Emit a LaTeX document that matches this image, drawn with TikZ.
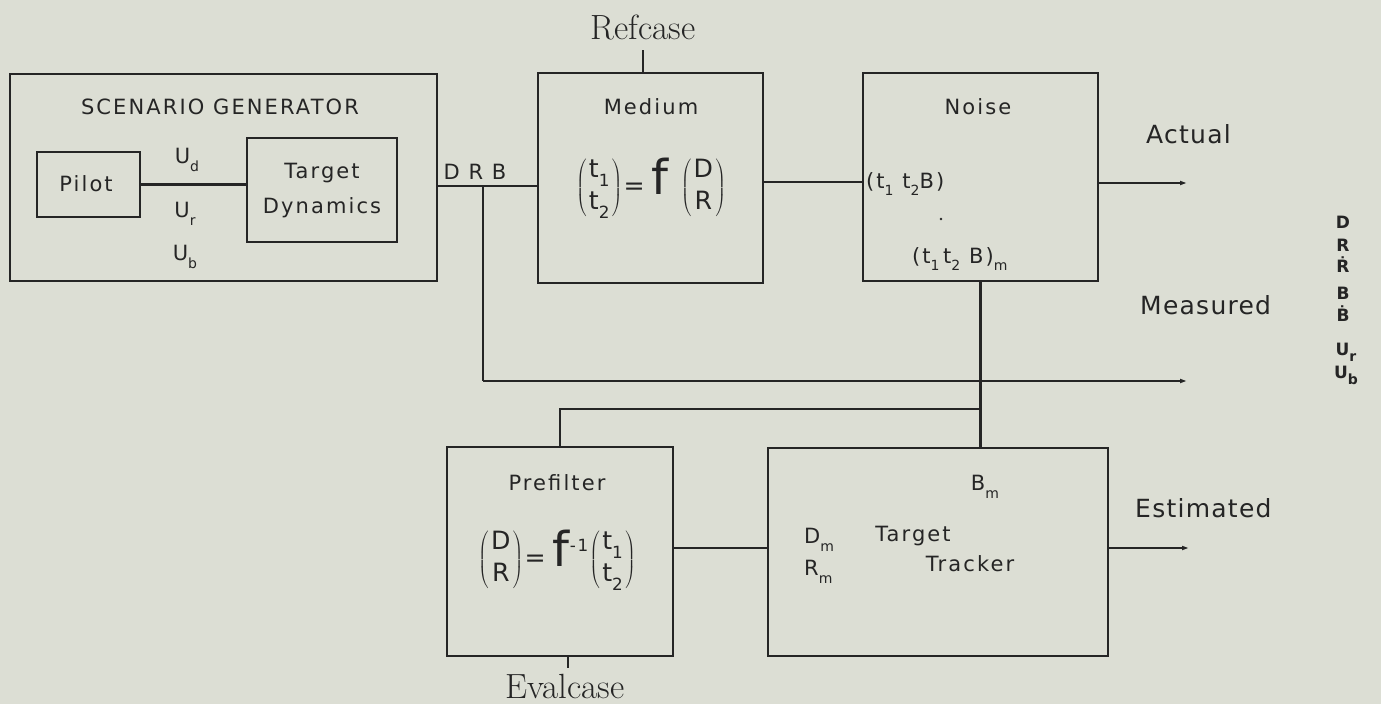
\documentclass[tikz,border=0pt]{standalone}
\usepackage{fontspec}
\usetikzlibrary{arrows.meta}
\newfontfamily\lt[LetterSpace=10]{DejaVu Sans}
\newfontfamily\lb[LetterSpace=5]{DejaVu Sans}
\setmainfont{Latin Modern Roman}
\definecolor{bg}{HTML}{DCDED4}
\definecolor{ink}{HTML}{252525}
\newcommand\sbs[1]{\raisebox{-0.35em}{\fontsize{14}{14}\selectfont #1}}
\newcommand\vstk[2]{\begin{tabular}{@{}c@{}}#1\\[3pt]#2\end{tabular}}
\newcommand\prn[1]{$\left(\vcenter{\hbox{\kern2pt#1\kern2pt}}\right)$}
\newcommand\bigf{{\fontsize{40}{40}\selectfont f}}
\tikzset{
  box/.style={draw=ink, line width=2.5pt, inner sep=0pt},
  wire/.style={draw=ink, line width=2.5pt},
  outw/.style={wire, -{Latex[length=10pt,width=4.5pt]}},
  txt/.style={text=ink, font=\lt\fontsize{21}{24}\selectfont, inner sep=0pt},
  eqn/.style={text=ink, font=\lt\fontsize{21}{24}\selectfont, inner sep=0pt, scale=1.2, transform shape=false},
  big/.style={text=ink, font=\lb\fontsize{25}{28}\selectfont, inner sep=0pt},
  serif/.style={text=ink, font=\fontsize{35}{38}\selectfont, inner sep=0pt},
  lst/.style={text=ink, font=\lb\fontsize{17}{20}\selectfont\bfseries, inner sep=0pt}
}
\begin{document}
\begin{tikzpicture}[x=1pt,y=-1pt]
\fill[bg] (0,0) rectangle (1381,704);
\useasboundingbox (0,0) rectangle (1381,704);
% boxes
\node[box, minimum width=427pt, minimum height=207pt] (scen) at (223.5,177.5) {};
\node[box, minimum width=103pt, minimum height=65pt] (pilot) at (88.5,184.5) {};
\node[box, minimum width=150pt, minimum height=104pt] (td) at (322,190) {};
\node[box, minimum width=225pt, minimum height=210pt] (med) at (650.5,178) {};
\node[box, minimum width=235pt, minimum height=208pt] (noise) at (980.5,177) {};
\node[box, minimum width=226pt, minimum height=209pt] (pre) at (560,551.5) {};
\node[box, minimum width=340pt, minimum height=208pt] (trk) at (938,552) {};
% coordinates
\coordinate (br) at (483,186);
\coordinate (measend) at (1190,381);
\coordinate (actend) at (1190,183);
\coordinate (estend) at (1192,548);
\coordinate (jn) at (980.5,409);
\coordinate (refc) at (643,50);
\coordinate (evc) at (568,668);
% texts
\node[txt] (sgt) at (220,107) {SCENARIO GENERATOR};
\node[txt] (pilt) at (86,184) {Pilot};
\node[txt] (tdt1) at (322,173) {Target};
\node[txt] (tdt2) at (322,208) {Dynamics};
\node[txt] (ud) at (187,160) {U\sbs{d}};
\node[txt] (ur) at (185,214) {U\sbs{r}};
\node[txt] (ub) at (185,257) {U\sbs{b}};
\node[txt] (drb) at (475,172) {D R B};
\node[txt] (medt) at (651,107) {Medium};
\node[eqn] (medeq) at (651,188) {\prn{\vstk{t\sbs{1}}{t\sbs{2}}}\kern1pt=\kern6pt\bigf\kern10pt\prn{\vstk{D}{R}}};
\node[txt] (noit) at (978,107) {Noise};
\node[txt, anchor=west] (nt1) at (866,184) {(t\sbs{1} t\sbs{2}B)};
\fill[ink] (941,219) circle (1.3pt);
\node[txt, anchor=west] (nt2) at (912,259) {(t\sbs{1}\,t\sbs{2} B)\sbs{m}};
\node[big, anchor=west] (act) at (1146,134) {Actual};
\node[big, anchor=west] (meas) at (1140,305) {Measured};
\node[big, anchor=west] (est) at (1135,508) {Estimated};
\node[txt] (pret) at (557,483) {Prefilter};
\node[eqn] (preeq) at (557,560) {\prn{\vstk{D}{R}}\kern1pt=\kern6pt\bigf\raisebox{0.6em}{\fontsize{14}{14}\selectfont -1}\kern1pt\prn{\vstk{t\sbs{1}}{t\sbs{2}}}};
\node[txt] (bm) at (985,487) {B\sbs{m}};
\node[txt, anchor=west] (dm) at (804,540) {D\sbs{m}};
\node[txt, anchor=west] (rm) at (804,572) {R\sbs{m}};
\node[txt] (tgt) at (913,536) {Target};
\node[txt] (trkt) at (970,564) {Tracker};
\node[serif] (reft) at (643,27) {Refcase};
\node[serif] (evt) at (565,686) {Evalcase};
% right list
\node[lst] (l1) at (1343,222) {D};
\node[lst] (l2) at (1343,245) {R};
\node[lst] (l3) at (1343,265) {\.R};
\node[lst] (l4) at (1343,293) {B};
\node[lst] (l5) at (1343,314) {\.B};
\node[lst] (l6) at (1346,352) {U\sbs{r}};
\node[lst] (l7) at (1346,375) {U\sbs{b}};
% connectors
\draw[wire] (pilot.east) -- (pilot.east -| td.west);
\draw[wire] (scen.east |- br) -- (med.west |- br);
\draw[wire] (br) -- (br |- measend);
\draw[outw] (br |- measend) -- (measend);
\draw[wire] (med.east |- 0,182) -- (noise.west |- 0,182);
\draw[outw] (noise.east |- actend) -- (actend);
\draw[wire] (noise.south) -- (noise.south |- trk.north);
\draw[wire] (jn) -- (jn -| pre.north) -- (pre.north);
\draw[wire] (pre.east |- estend) -- (trk.west |- estend);
\draw[outw] (trk.east |- estend) -- (estend);
\draw[wire] (med.north -| refc) -- (refc);
\draw[wire] (pre.south -| evc) -- (evc);
\end{tikzpicture}
\end{document}
